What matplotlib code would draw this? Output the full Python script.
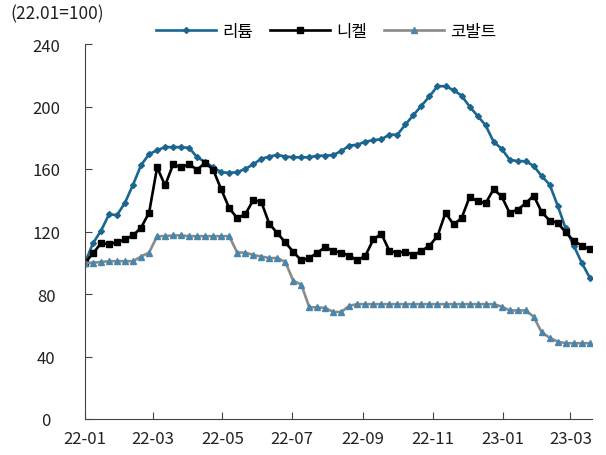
import matplotlib
matplotlib.use("Agg")
import matplotlib.pyplot as plt
import matplotlib.dates as mdates
import pandas as pd

plt.rcParams["font.family"] = ["Noto Sans CJK KR", "DejaVu Sans"]

# weekly index, 22.01 = 100
dates = pd.date_range("2022-01-01", periods=64, freq="7D")

lithium = [100, 112.5, 120.5, 131, 130.5, 138.5, 150, 162.5, 169.5, 172,
           174, 174, 174, 173.5, 167.5, 164.5, 161, 158, 157.5, 158,
           160, 163, 166.5, 168, 169, 168, 167.5, 167.5, 167.5, 168.5,
           168.5, 169, 171.5, 175, 175.5, 177.5, 178.5, 179, 182, 182,
           188.5, 194.5, 200.5, 206.5, 213, 213, 210.5, 207, 200, 194,
           188, 177.5, 173, 166, 165, 165, 162, 155.5, 150, 136.5,
           122, 111, 100, 90.5]

nickel = [100, 106, 112.5, 112, 113, 115, 117.5, 122.5, 132, 161,
          149.5, 163, 161, 163, 159.5, 164, 159.5, 147, 135, 128.5,
          131, 140, 139, 125, 119, 113, 107, 101.5, 103, 106.5,
          110, 107.5, 106.5, 104.5, 101.5, 104.5, 115, 118.5, 107.5, 106.5,
          107, 105, 107.5, 111, 117, 132, 124.5, 128.5, 142, 139.5,
          138, 147, 142.5, 132, 134, 138, 143, 132.5, 127, 125.5,
          119.5, 114, 111, 108.5]

cobalt = [100, 100, 100.5, 101, 101, 101, 101, 104, 106.5, 117,
          117, 117.5, 117.5, 117, 117, 117, 117, 117, 117, 106.5,
          106.5, 105, 104, 103, 103, 100.5, 88.5, 86, 71.5, 71.5,
          71, 68.5, 68.5, 72.5, 73.5, 73.5, 73.5, 73.5, 73.5, 73.5,
          73.5, 73.5, 73.5, 73.5, 73.5, 73.5, 73.5, 73.5, 73.5, 73.5,
          73.5, 73.5, 72, 69.5, 69.5, 69.5, 65.5, 55.5, 52, 49.5,
          48.5, 48.5, 48.5, 48.5]

labels = ["리튬", "니켈", "코발트"]
y_ticks = [0, 40, 80, 120, 160, 200, 240]

fig = plt.figure(figsize=(6.06, 4.56), dpi=100)
ax = fig.add_axes([85 / 606, 36 / 456, 507 / 606, 375 / 456])

ax.plot(dates, lithium, color="#1b6690", lw=1.9, marker="D", ms=3.0,
        label=labels[0])
ax.plot(dates, nickel, color="#000000", lw=1.9, marker="s", ms=5.0,
        label=labels[1])
ax.plot(dates, cobalt, color="#8a8a8a", lw=1.9, marker="^", ms=5.0,
        mfc="#4a86a9", mec="#4a86a9", label=labels[2])

ax.set_ylim(0, 240)
ax.set_yticks(y_ticks)
ax.set_xlim(pd.Timestamp("2022-01-01"), pd.Timestamp("2023-03-20"))
ax.xaxis.set_major_locator(mdates.MonthLocator(bymonth=[1, 3, 5, 7, 9, 11]))
ax.xaxis.set_major_formatter(mdates.DateFormatter("%y-%m"))

for s in ["top", "right"]:
    ax.spines[s].set_visible(False)
for s in ["left", "bottom"]:
    ax.spines[s].set_color("#444444")
ax.tick_params(direction="in", length=5, color="#444444", labelsize=12,
               labelcolor="#222222")
ax.tick_params(axis="y", pad=28)
ax.tick_params(axis="x", pad=8)
for t in ax.get_yticklabels():
    t.set_horizontalalignment("center")

fig.text(10 / 606, 1 - 14 / 456, "(22.01=100)", fontsize=12.5, color="#222222",
         va="center", ha="left")

fig.legend(loc="center", bbox_to_anchor=(326 / 606, 1 - 32 / 456), ncol=3,
           frameon=False, fontsize=12, handlelength=3.6, columnspacing=1.0,
           handletextpad=0.4)

fig.savefig("out.png", dpi=100)
